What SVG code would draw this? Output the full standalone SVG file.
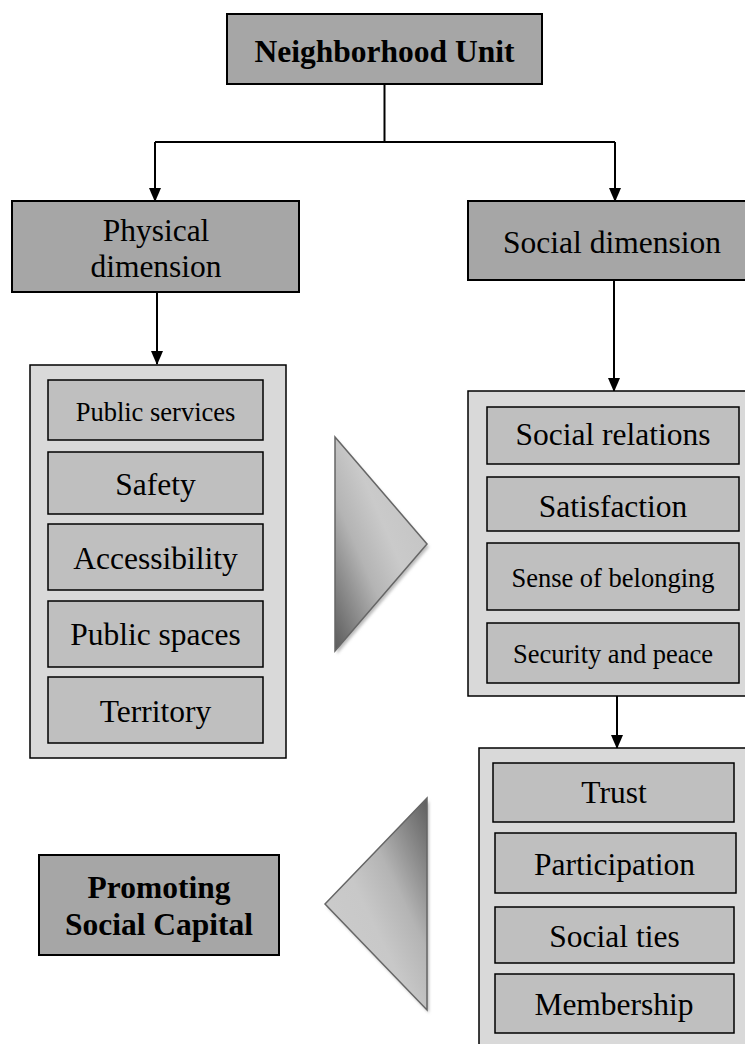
<svg xmlns="http://www.w3.org/2000/svg" width="745" height="1044" viewBox="0 0 745 1044">
<style>
.top{fill:#a6a6a6;stroke:#000;stroke-width:2}
.cont{fill:#d9d9d9;stroke:#000;stroke-width:1.5}
.inner{fill:#bfbfbf;stroke:#000;stroke-width:1.5}
.t{font-family:"Liberation Serif","Times New Roman",serif;fill:#000;text-anchor:middle}
.big{font-size:31.5px}
.sm{font-size:26.5px}
.b{font-weight:bold}
.conn{stroke:#000;stroke-width:2;fill:none}
.tri{stroke:#666;stroke-width:1.5}
</style>
<defs>
<marker id="ah" viewBox="0 0 14 12" refX="13" refY="6" markerWidth="14" markerHeight="12" markerUnits="userSpaceOnUse" orient="auto">
<path d="M0,0 L14,6 L0,12 Z" fill="#000"/>
</marker>
<linearGradient id="g1" x1="0" y1="1" x2="0.8" y2="0.2">
<stop offset="0" stop-color="#5a5a5a"/>
<stop offset="0.45" stop-color="#b4b4b4"/>
<stop offset="0.7" stop-color="#cacaca"/>
<stop offset="1" stop-color="#c4c4c4"/>
</linearGradient>
<linearGradient id="g2" x1="1" y1="0" x2="0.2" y2="0.8">
<stop offset="0" stop-color="#5e5e5e"/>
<stop offset="0.45" stop-color="#b4b4b4"/>
<stop offset="0.7" stop-color="#c8c8c8"/>
<stop offset="1" stop-color="#cbcbcb"/>
</linearGradient>
<filter id="sh" x="-20%" y="-20%" width="140%" height="140%">
<feGaussianBlur stdDeviation="1.5"/>
</filter>
</defs>
<rect width="745" height="1044" fill="#fff"/>

<g id="connectors">
<path class="conn" d="M384.5,84 V142"/>
<path class="conn" d="M155,142 H615"/>
<path class="conn" d="M155,142 V201" marker-end="url(#ah)"/>
<path class="conn" d="M615,142 V201" marker-end="url(#ah)"/>
<path class="conn" d="M157,292 V364" marker-end="url(#ah)"/>
<path class="conn" d="M614,280 V391" marker-end="url(#ah)"/>
<path class="conn" d="M617,696 V748" marker-end="url(#ah)"/>
</g>

<g id="neighborhood-unit">
<rect class="top" x="227" y="14" width="315" height="70"/>
<text class="t big b" x="384.5" y="62">Neighborhood Unit</text>
</g>

<g id="physical-dimension">
<rect class="top" x="12" y="201" width="287" height="91"/>
<text class="t big" x="156" y="241">Physical</text>
<text class="t big" x="156" y="277">dimension</text>
</g>

<g id="social-dimension">
<rect class="top" x="468" y="201" width="282" height="79"/>
<text class="t big" x="612" y="253">Social dimension</text>
</g>

<g id="physical-items">
<rect class="cont" x="30" y="365" width="256" height="393"/>
<rect class="inner" x="48" y="380" width="215" height="60"/>
<text class="t sm" x="155.5" y="421">Public services</text>
<rect class="inner" x="48" y="452" width="215" height="62"/>
<text class="t big" x="155.5" y="495">Safety</text>
<rect class="inner" x="48" y="524" width="215" height="66"/>
<text class="t big" x="155.5" y="569">Accessibility</text>
<rect class="inner" x="48" y="601" width="215" height="66"/>
<text class="t big" x="155.5" y="645">Public spaces</text>
<rect class="inner" x="48" y="677" width="215" height="66"/>
<text class="t big" x="155.5" y="722">Territory</text>
</g>

<g id="social-items">
<rect class="cont" x="468" y="391" width="282" height="305"/>
<rect class="inner" x="487" y="407" width="252" height="57"/>
<text class="t big" x="613" y="445">Social relations</text>
<rect class="inner" x="487" y="477" width="252" height="54"/>
<text class="t big" x="613" y="517">Satisfaction</text>
<rect class="inner" x="487" y="543" width="252" height="67"/>
<text class="t sm" x="613" y="587">Sense of belonging</text>
<rect class="inner" x="487" y="623" width="252" height="60"/>
<text class="t sm" x="613" y="663">Security and peace</text>
</g>

<g id="capital-items">
<rect class="cont" x="479" y="748" width="271" height="300"/>
<rect class="inner" x="493" y="763" width="241" height="59"/>
<text class="t big" x="614" y="803">Trust</text>
<rect class="inner" x="495" y="833" width="241" height="60"/>
<text class="t big" x="614.5" y="875">Participation</text>
<rect class="inner" x="495" y="907" width="239" height="56"/>
<text class="t big" x="614.5" y="947">Social ties</text>
<rect class="inner" x="495" y="974" width="239" height="59"/>
<text class="t big" x="614" y="1015">Membership</text>
</g>

<g id="promoting-social-capital">
<rect class="top" x="39" y="855" width="240" height="100"/>
<text class="t big b" x="159" y="898">Promoting</text>
<text class="t big b" x="159" y="935">Social Capital</text>
</g>

<g id="arrow-right">
<polygon points="337,440 429,547 337,654" fill="#bbb" filter="url(#sh)"/>
<polygon class="tri" points="335,437 427,544 335,651" fill="url(#g1)"/>
</g>

<g id="arrow-left">
<polygon points="429,801 327,907 429,1013" fill="#bbb" filter="url(#sh)"/>
<polygon class="tri" points="427,798 325,904 427,1010" fill="url(#g2)"/>
</g>
</svg>
